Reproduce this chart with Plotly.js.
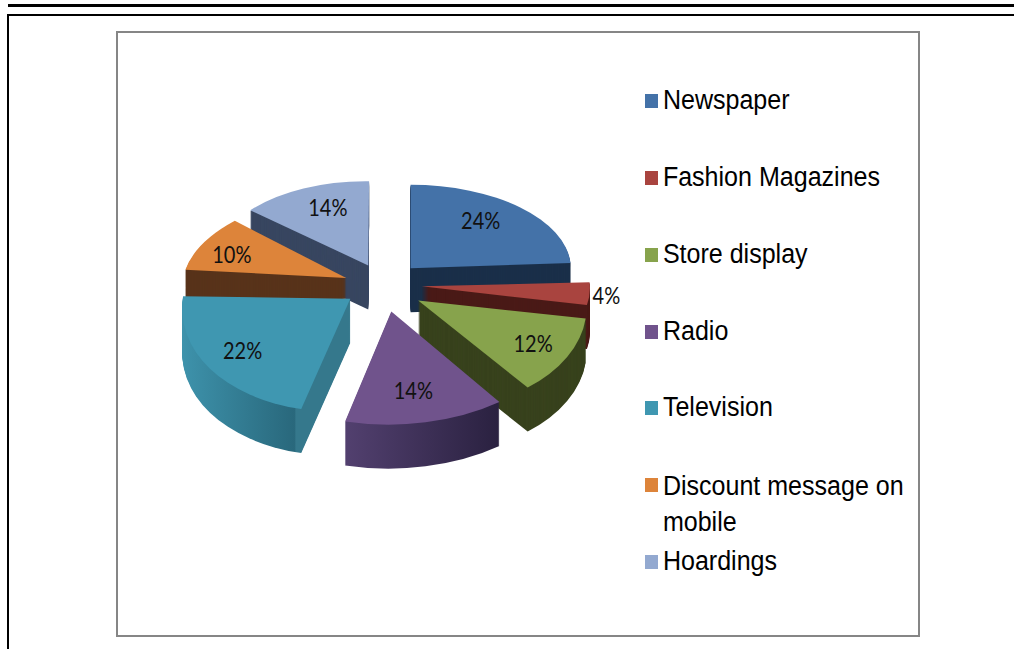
<!DOCTYPE html>
<html><head><meta charset="utf-8">
<script src="https://cdn.plot.ly/plotly-3.0.1.min.js"></script>
<style>html,body{margin:0;padding:0;background:#fff;overflow:hidden}</style>
</head><body><div id="chart" style="width:1014px;height:649px"></div>
<script>
const categories = ['Newspaper','Fashion Magazines','Store display','Radio','Television','Discount message on<br>mobile','Hoardings'];
const shares = [24,4,12,14,22,10,14];
const pulls = [0.26,0.26,0.26,0.31,0.26,0.26,0.26];
const topColors = ['#4472a8','#a9443f','#87a34c','#70538c','#3f97b1','#dd843a','#93a9d0'];
const sideColors = ['#1a2f49','#4a1a17','#38421d','#3a2c52','#2f7488','#58331a','#384660'];
const textPositions = ['inside','outside','inside','inside','inside','inside','inside'];
const legendY = [100,177,254,331,407,484,561];
const legendTextY = [100,177,254,331,407,503,561];
// Perspective tilt per slice: linear part [a,b,c,d] and shift of the apex, plus label nudges
const tilt = [[1,0,0,1],[1.05,0.01,0,1.1],[1.048,-0.017,0.159,1.312],[1.15,-0.01,-0.004,1.358],
              [1.048,-0.028,-0.09,1.353],[1.014,0.018,-0.26,1.034],[0.96,0.012,-0.01,1.01]];
const apexShift = [[1,-1],[-1,0],[2,4],[1,1],[3,1],[4,1],[5,0]];
const labelNudge = [[5,-12],[-4,1],[6,1],[-2,1],[-22,8],[-5,2],[5,-4]];
const wallGradients = {3:[[0,'#52406f'],[1,'#2a2140']],
                       4:[[0,'#3e93ac'],[0.71,'#29687c'],[0.72,'#35788c'],[1,'#35788c']]};

const W=1014,H=649, CX=381, CY=285, HALF=210, SQUASH=0.52, DEPTH=44, LAYERS=44;
const px=x=>x/W, py=y=>1-y/H;
const FONT={family:'Lato, Carlito, sans-serif',size:20,color:'#111'};
function pie(colors,isTop){
  return {type:'pie',labels:categories,values:shares,pull:pulls,sort:false,direction:'clockwise',rotation:0,
    domain:{x:[px(CX-HALF),px(CX+HALF)],y:[py(CY+HALF),py(CY-HALF)]},
    marker:{colors:colors,line:{width:0}},showlegend:false,hoverinfo:'skip',
    textinfo:isTop?'percent':'none',textposition:isTop?textPositions:'none',
    insidetextorientation:'horizontal',textfont:FONT,outsidetextfont:FONT,insidetextfont:FONT};
}
const traces=[];
for(let i=LAYERS;i>=1;i--) traces.push(pie(sideColors,false));
traces.push(pie(topColors,true));

const line=(x0,y0,x1,y1,c,w)=>({type:'line',xref:'paper',yref:'paper',x0:px(x0),y0:py(y0),x1:px(x1),y1:py(y1),line:{color:c,width:w}});
const shapes=[
  line(8,5.5,1014,5.5,'#000',3),
  line(8,15,1014,15,'#000',2),
  line(8,14,8,649,'#000',2),
  {type:'rect',xref:'paper',yref:'paper',x0:px(117),x1:px(919),y0:py(32),y1:py(636),line:{color:'#868686',width:2}}
];
categories.forEach((c,i)=>shapes.push({type:'rect',xref:'paper',yref:'paper',
  x0:px(645),x1:px(658),y0:py(legendY[i]-6),y1:py(legendY[i]+8),fillcolor:topColors[i],line:{width:0}}));
const annotations=categories.map((c,i)=>({xref:'paper',yref:'paper',x:px(663),y:py(legendTextY[i]),xanchor:'left',yanchor:'middle',
  text:c,showarrow:false,align:'left',font:{family:'Liberation Sans, Arial, sans-serif',size:26.5,color:'#000'},xshift:-2}));

Plotly.newPlot('chart',traces,{width:W,height:H,margin:{l:0,r:0,t:0,b:0},paper_bgcolor:'#fff',plot_bgcolor:'#fff',
  showlegend:false,shapes:shapes,annotations:annotations},{displayModeBar:false,staticPlot:true}).then(gd=>{
  const svgNS='http://www.w3.org/2000/svg';
  const defs=gd.querySelector('.main-svg defs');
  Object.keys(wallGradients).forEach(k=>{
    const g=document.createElementNS(svgNS,'linearGradient');
    g.setAttribute('id','wall'+k);
    wallGradients[k].forEach(s=>{
      const st=document.createElementNS(svgNS,'stop');
      st.setAttribute('offset',s[0]);st.setAttribute('stop-color',s[1]);g.appendChild(st);
    });
    defs.appendChild(g);
  });
  const pieTraces=gd.querySelectorAll('.pielayer .trace');
  pieTraces.forEach((tr,j)=>{
    const isTop=j===pieTraces.length-1;
    const drop=isTop?0:(LAYERS-j)/LAYERS*DEPTH;
    tr.querySelectorAll('.slice').forEach((sl,i)=>{
      const path=sl.querySelector('path.surface');
      const m=/M\s*(-?[\d.]+)[ ,]+(-?[\d.]+)/.exec(path.getAttribute('d'));
      const Px=+m[1],Py=+m[2];
      const [ma,mb,mc,md]=tilt[i];
      const a=ma,b=mb,c=mc*SQUASH,d=md*SQUASH;
      const tx=Px+apexShift[i][0], ty=CY+(Py-CY)*SQUASH+apexShift[i][1]+drop;
      const e=tx-(a*Px+c*Py), f=ty-(b*Px+d*Py);
      sl.setAttribute('transform',`matrix(${a},${b},${c},${d},${e},${f})`);
      if(!isTop && wallGradients[i]) path.style.fill=`url(#wall${i})`;
      if(isTop){
        const det=a*d-b*c, ia=d/det, ib=-b/det, ic=-c/det, id=a/det;
        sl.querySelectorAll('text').forEach(el=>{
          const bb=el.getBBox(),cx=bb.x+bb.width/2,cy=bb.y+bb.height/2,orig=el.getAttribute('transform')||'';
          const nx=labelNudge[i][0],ny=labelNudge[i][1];
          const lx=ia*nx+ic*ny, ly=ib*nx+id*ny;
          el.setAttribute('transform',`translate(${lx},${ly}) ${orig} translate(${cx},${cy}) matrix(${ia},${ib},${ic},${id},0,0) scale(1,1.15) translate(${-cx},${-cy})`);
        });
      }
    });
  });
  // legend lettering is tall and narrow in the reference
  gd.querySelectorAll('.annotation').forEach(an=>{
    const bb=an.getBBox(),cy=bb.y+bb.height/2;
    an.setAttribute('transform',`translate(661,${cy}) scale(0.945,1.05) translate(-661,${-cy})`);
  });
});
</script></body></html>
